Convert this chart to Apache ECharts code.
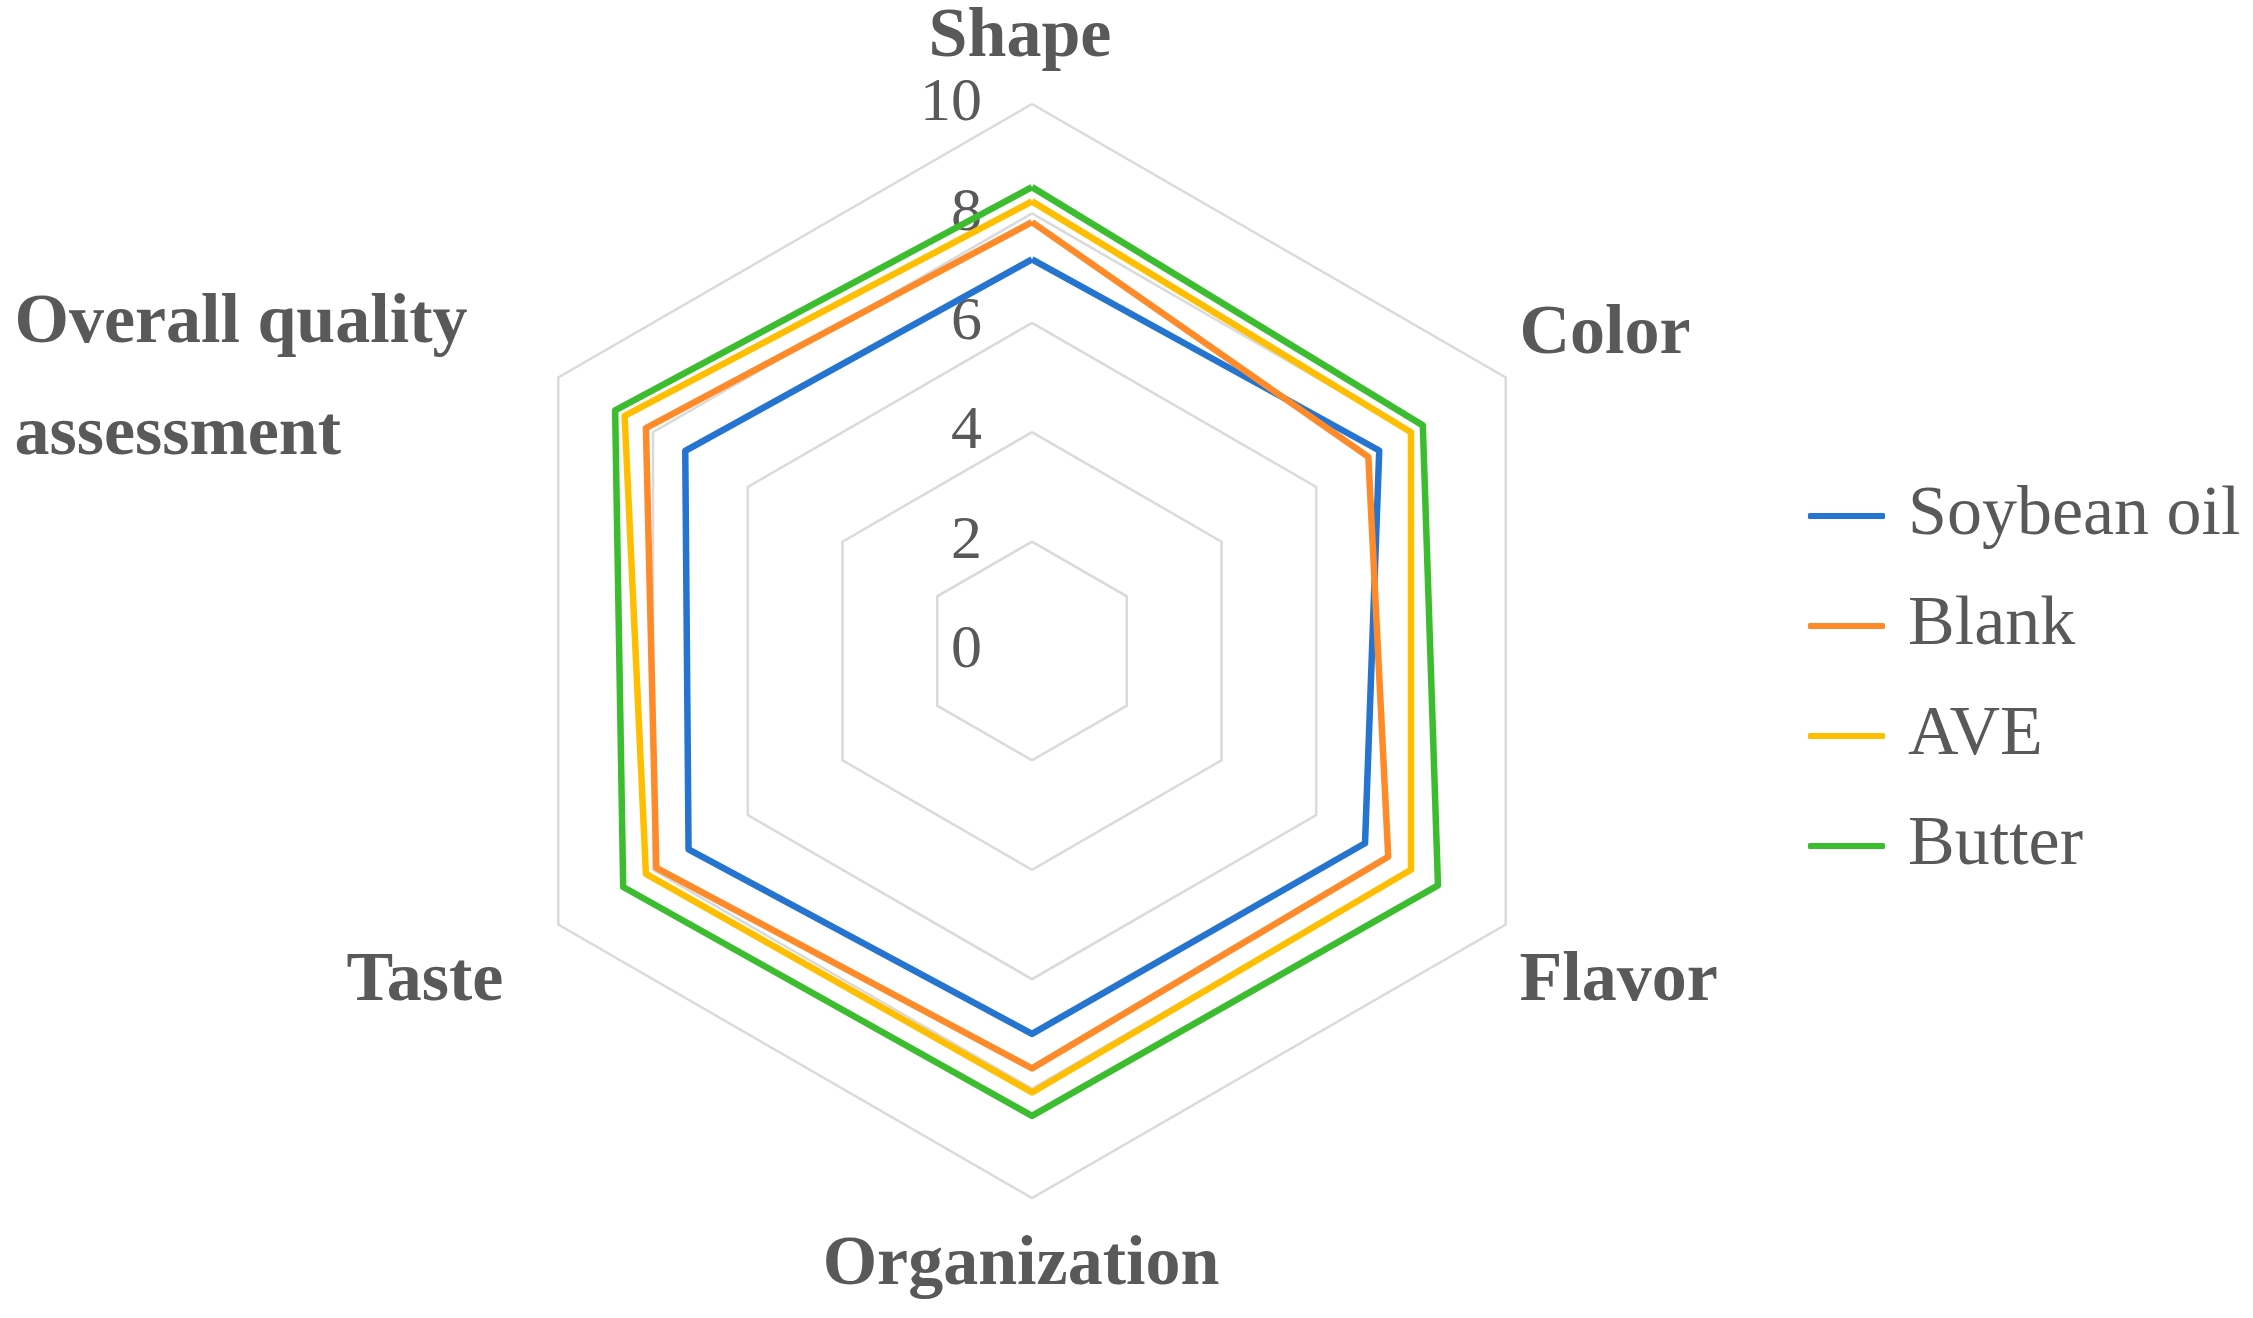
<!DOCTYPE html>
<html lang="en">

<head>
    <meta charset="UTF-8">
    <title>Radar</title>
    <script src="https://cdn.jsdelivr.net/npm/echarts@6/dist/echarts.min.js"></script>
    <style>
        html, body { margin: 0; padding: 0; background: #fff; }
        #chart { width: 2253px; height: 1318px; }
    </style>
</head>

<body>
    <div id="chart"></div>
    <script>
        // clockwise from the top, as in the picture
        const categories = ['Shape', 'Color', 'Flavor', 'Organization', 'Taste', 'Overall quality\nassessment'];
        const seriesNames = ['Soybean oil', 'Blank', 'AVE', 'Butter'];
        const soybean = [7.16, 7.33, 7.03, 7.0, 7.25, 7.32];
        const blank = [7.84, 7.1, 7.52, 7.63, 7.93, 8.15];
        const ave = [8.22, 8.0, 8.0, 8.07, 8.15, 8.6];
        const butter = [8.48, 8.25, 8.57, 8.5, 8.63, 8.8];
        const axisMax = 10;
        const colors = ['#2474D0', '#FF8A29', '#FFBE00', '#3CBD2F'];

        const FONT = '"Times New Roman", "Liberation Serif", serif';
        const GREY = '#595959';

        // echarts lays radar indicators out counterclockwise
        const ccw = arr => [arr[0]].concat(arr.slice(1).reverse());

        // per-axis tweaks of the name position
        const nameStyles = {
            'Shape': { verticalAlign: 'middle', padding: [16, 24, 0, 0] },
            'Color': { verticalAlign: 'bottom' },
            'Flavor': { verticalAlign: 'top', padding: [14, 0, 0, 0] },
            'Organization': { padding: [0, 22, 0, 0] },
            'Taste': { verticalAlign: 'top', padding: [14, 41, 0, 0] },
            'Overall quality\nassessment': {
                verticalAlign: 'middle',
                padding: [20, 74, 0, 0],
                rich: {
                    w: { width: 456, align: 'left', fontSize: 70, fontWeight: 'bold', fontFamily: FONT, color: GREY, lineHeight: 112 }
                }
            }
        };
        const nameGaps = { 'Shape': 58, 'Organization': 33 };

        const indicator = ccw(categories).map((name, i) => {
            const ind = { name: name, max: axisMax, min: 0 };
            if (nameStyles[name]) ind.nameTextStyle = nameStyles[name];
            if (nameGaps[name] != null) ind.nameGap = nameGaps[name];
            if (i === 0) {
                ind.axisLabel = {
                    show: true,
                    color: GREY,
                    fontSize: 62,
                    fontFamily: FONT,
                    margin: 50
                };
            }
            return ind;
        });

        const allData = [soybean, blank, ave, butter];

        const chart = echarts.init(document.getElementById('chart'));
        chart.setOption({
            animation: false,
            color: colors,
            legend: {
                orient: 'vertical',
                left: 1808,
                top: 481,
                padding: 0,
                itemWidth: 77,
                itemHeight: 6,
                itemGap: 40,
                icon: 'roundRect',
                data: seriesNames,
                textStyle: {
                    fontSize: 70,
                    lineHeight: 68,
                    color: GREY,
                    fontFamily: FONT,
                    padding: [0, 0, 0, 18]
                }
            },
            radar: {
                center: [1032, 651],
                radius: 547,
                shape: 'polygon',
                splitNumber: 5,
                startAngle: 90,
                indicator: indicator,
                nameGap: 16,
                axisName: {
                    color: GREY,
                    fontSize: 70,
                    fontWeight: 'bold',
                    fontFamily: FONT,
                    formatter: function (name) {
                        if (name.indexOf('\n') >= 0) {
                            return name.split('\n').map(s => '{w|' + s + '}').join('\n');
                        }
                        return name;
                    }
                },
                axisLine: { show: false },
                axisTick: { show: false },
                axisLabel: { show: false },
                splitArea: { show: false },
                splitLine: {
                    lineStyle: { color: '#DADADA', width: 2.5 }
                }
            },
            series: [{
                type: 'radar',
                symbol: 'none',
                lineStyle: { width: 6.5 },
                data: seriesNames.map((n, i) => ({
                    name: n,
                    value: ccw(allData[i]),
                    lineStyle: { color: colors[i], width: 6.5 },
                    itemStyle: { color: colors[i] }
                }))
            }]
        });
    </script>
</body>

</html>
